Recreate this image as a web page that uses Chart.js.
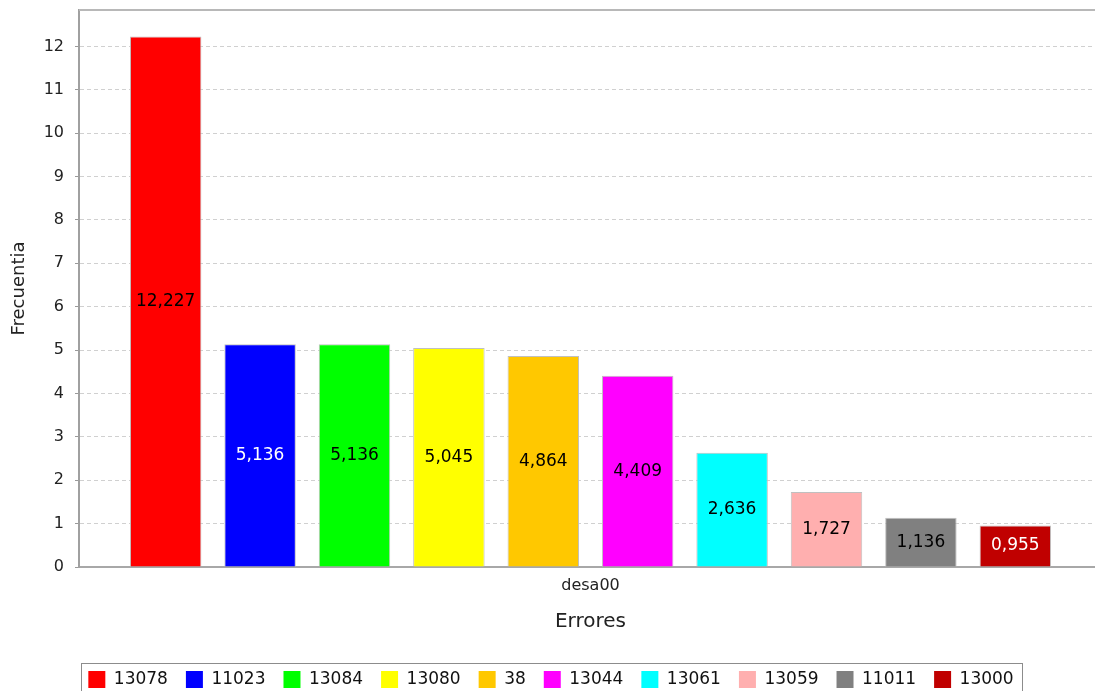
<!DOCTYPE html>
<html>
<head>
<meta charset="utf-8">
<script src="https://cdn.jsdelivr.net/npm/chart.js@4.4.1/dist/chart.umd.min.js"></script>
<style>
  html, body { margin:0; padding:0; background:#fff; overflow:hidden; }
  canvas { display:block; }
</style>
</head>
<body>
<canvas id="chart" width="1103" height="698"></canvas>
<script>
// data
const categories   = ['desa00'];
const seriesNames  = ['13078','11023','13084','13080','38','13044','13061','13059','11011','13000'];
const seriesValues = [12.227, 5.136, 5.136, 5.045, 4.864, 4.409, 2.636, 1.727, 1.136, 0.955];
const seriesColors = ['#ff0000','#0000ff','#00ff00','#ffff00','#ffc800','#ff00ff','#00ffff','#ffafaf','#808080','#c00000'];
const labelColors  = ['#000','#fff','#000','#000','#000','#000','#000','#000','#000','#fff'];
const yTicks       = [0,1,2,3,4,5,6,7,8,9,10,11,12];
const yMax         = 12.838;

const FONT = '"DejaVu Sans", sans-serif';

// value written in the middle of each bar, comma decimals
const barLabels = {
  id: 'barLabels',
  afterDatasetsDraw(chart) {
    const ctx = chart.ctx;
    ctx.save();
    ctx.font = '17px ' + FONT;
    ctx.textAlign = 'center';
    ctx.textBaseline = 'middle';
    chart.data.datasets.forEach((ds, i) => {
      const bar = chart.getDatasetMeta(i).data[0];
      ctx.fillStyle = labelColors[i];
      ctx.fillText(ds.data[0].toFixed(3).replace('.', ','), bar.x, (bar.y + bar.base) / 2);
    });
    ctx.restore();
  }
};

// plot top outline + box round the legend
const frames = {
  id: 'frames',
  afterDraw(chart) {
    const { ctx, chartArea: a, legend } = chart;
    ctx.save();
    ctx.strokeStyle = '#b8b8b8';
    ctx.lineWidth = 2;
    ctx.beginPath();
    ctx.moveTo(a.left, a.top);
    ctx.lineTo(a.right, a.top);
    ctx.stroke();
    const hb = legend.legendHitBoxes;
    const first = hb[0], last = hb[hb.length - 1];
    const x0 = Math.round(first.left - 7) + 0.5, y0 = Math.round(first.top - 8) + 0.5;
    const x1 = Math.round(last.left + last.width + 8) + 0.5;
    ctx.strokeStyle = '#8c8c8c';
    ctx.lineWidth = 1;
    ctx.strokeRect(x0, y0, x1 - x0, 80);
    ctx.restore();
  }
};

new Chart(document.getElementById('chart').getContext('2d'), {
  type: 'bar',
  data: {
    labels: categories,
    datasets: seriesNames.map((name, i) => ({
      label: name,
      data: [seriesValues[i]],
      backgroundColor: seriesColors[i],
      borderColor: '#c0c0c0',
      borderWidth: 1,
      categoryPercentage: 0.9228,
      barPercentage: 0.757
    }))
  },
  options: {
    responsive: false,
    animation: false,
    layout: { padding: { top: 10, right: 1, left: 0, bottom: 0 } },
    plugins: {
      tooltip: { enabled: false },
      legend: {
        position: 'bottom',
        labels: {
          boxWidth: 17, boxHeight: 17, padding: 18,
          color: '#111',
          font: { family: FONT, size: 17 },
          generateLabels: chart => Chart.defaults.plugins.legend.labels.generateLabels(chart)
            .map(l => ({ ...l, lineWidth: 0 }))
        }
      }
    },
    scales: {
      x: {
        grid: { display: false, drawTicks: false },
        border: { display: true, color: '#a8a8a8', width: 2 },
        ticks: { color: '#222', padding: 9, font: { family: FONT, size: 16 } },
        title: { display: true, text: 'Errores', color: '#222', padding: { top: 0, bottom: 19 }, font: { family: FONT, size: 20 } },
        afterFit: s => { s.height = 86; }
      },
      y: {
        min: 0, max: yMax,
        afterBuildTicks: axis => { axis.ticks = yTicks.map(v => ({ value: v })); },
        grid: { color: '#d0d0d0', tickColor: '#999', tickBorderDash: [], tickLength: 4 },
        border: { display: true, color: '#a0a0a0', width: 2, dash: [4, 3] },
        ticks: { color: '#222', padding: 11, font: { family: FONT, size: 16 } },
        title: { display: true, text: 'Frecuentia', color: '#222', padding: { top: 9, bottom: 0 }, font: { family: FONT, size: 18 } },
        afterFit: s => { s.width = 79; s.paddingTop = 0; s.paddingBottom = 0; }
      }
    }
  },
  plugins: [barLabels, frames]
});
</script>
</body>
</html>
